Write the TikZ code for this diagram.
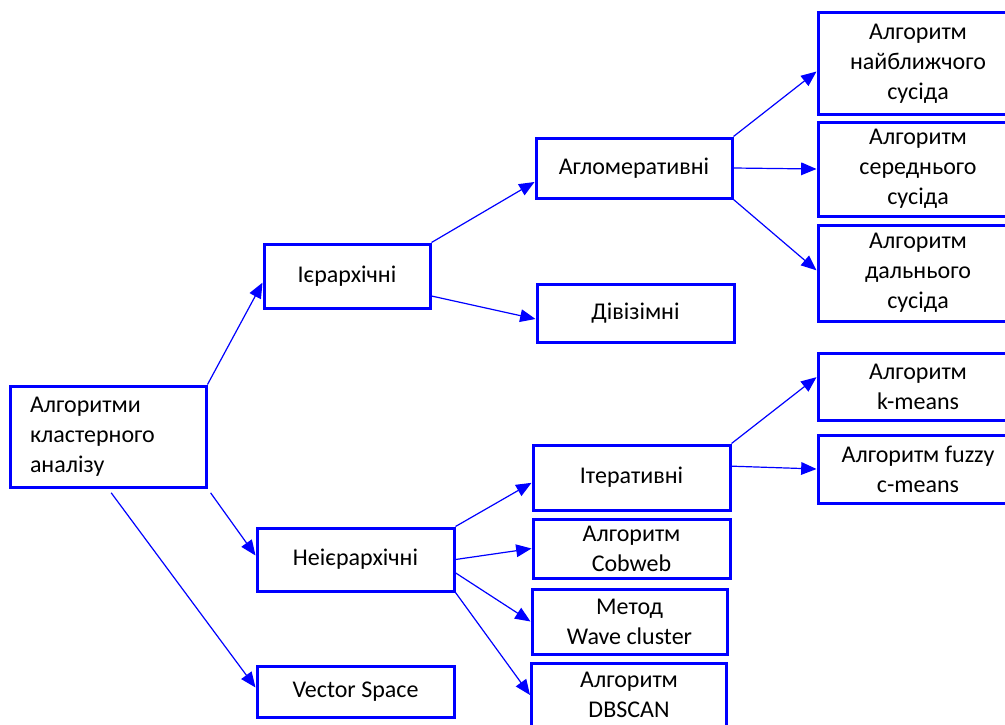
\documentclass[tikz,border=0pt]{standalone}
\usepackage{fontspec}
\setmainfont{Carlito}
\usetikzlibrary{arrows.meta}

\tikzset{
    box/.style={draw=blue, line width=2.25pt, align=center, inner sep=2pt,
        font=\fontsize{18}{22.5}\selectfont},
    link/.style={-{Triangle[length=11.5pt,width=9.5pt]}, draw=blue, line width=0.9pt}
}

\begin{document}
\begin{tikzpicture}[x=0.75pt, y=-0.75pt]
        \useasboundingbox (0,0) rectangle (1005,724);

        % Nodes
        \node (root) [box, minimum width=147pt, minimum height=75.75pt, align=left, text width=117pt, inner xsep=15pt] at (108, 436.5) {Алгоритми\\кластерного\\аналізу};
        \node (hier) [box, minimum width=124.5pt, minimum height=48pt] at (347, 276) {Ієрархічні};
        \node (neier) [box, minimum width=147.75pt, minimum height=47.25pt] at (355.5, 559.5) {Неієрархічні};
        \node (vect) [box, minimum width=147.75pt, minimum height=38.25pt] at (355.5, 691.5) {Vector Space};
        \node (aglo) [box, minimum width=147pt, minimum height=45pt] at (634, 168) {Агломеративні};
        \node (divis) [box, minimum width=147.75pt, minimum height=43.5pt] at (635.5, 313) {Дівізімні};
        \node (iter) [box, minimum width=147.75pt, minimum height=48.75pt] at (631.5, 477.5) {Ітеративні};
        \node (cobweb) [box, minimum width=147.75pt, minimum height=44.25pt] at (631.5, 548.5) {Алгоритм\\Cobweb};
        \node (wave) [box, minimum width=146.25pt, minimum height=48.75pt] at (629.5, 621.5) {Метод\\Wave cluster};
        \node (dbscan) [box, minimum width=146.25pt, minimum height=48pt] at (629, 695) {Алгоритм\\DBSCAN};
        \node (near) [box, minimum width=150pt, minimum height=75.75pt] at (918, 63.5) {Алгоритм\\найближчого\\сусіда};
        \node (mid) [box, minimum width=150pt, minimum height=70.5pt] at (918, 169) {Алгоритм\\середнього\\сусіда};
        \node (far) [box, minimum width=150pt, minimum height=72pt] at (918, 273) {Алгоритм\\дальнього\\сусіда};
        \node (kmeans) [box, minimum width=150pt, minimum height=50.25pt] at (918, 386.5) {Алгоритм\\k-means};
        \node (fuzzy) [box, minimum width=150pt, minimum height=51pt] at (918, 469) {Алгоритм fuzzy\\c-means};

        % Edges
        \draw[link] (root.north east) -- ([yshift=-5pt]hier.west);
        \draw[link, shorten <=4pt] (root.south east) -- ([yshift=3pt]neier.west);
        \draw[link, shorten <=4pt] (root.south) -- ([yshift=3pt]vect.west);
        \draw[link] (hier.north east) -- ([yshift=-10.5pt]aglo.west);
        \draw[link] ([yshift=-15pt]hier.east) -- ([yshift=-4.5pt]divis.west);
        \draw[link] (aglo.north east) -- ([yshift=-6pt]near.west);
        \draw[link] (aglo.east) -- (mid.west);
        \draw[link] (aglo.south east) -- ([yshift=2pt]far.west);
        \draw[link] (neier.north east) -- ([yshift=-4pt]iter.west);
        \draw[link] (neier.east) -- (cobweb.west);
        \draw[link] ([yshift=-10pt]neier.east) -- (wave.west);
        \draw[link] (neier.south east) -- (dbscan.west);
        \draw[link] (iter.north east) -- ([yshift=7pt]kmeans.west);
        \draw[link] ([yshift=8.5pt]iter.east) -- (fuzzy.west);
    \end{tikzpicture}
\end{document}
